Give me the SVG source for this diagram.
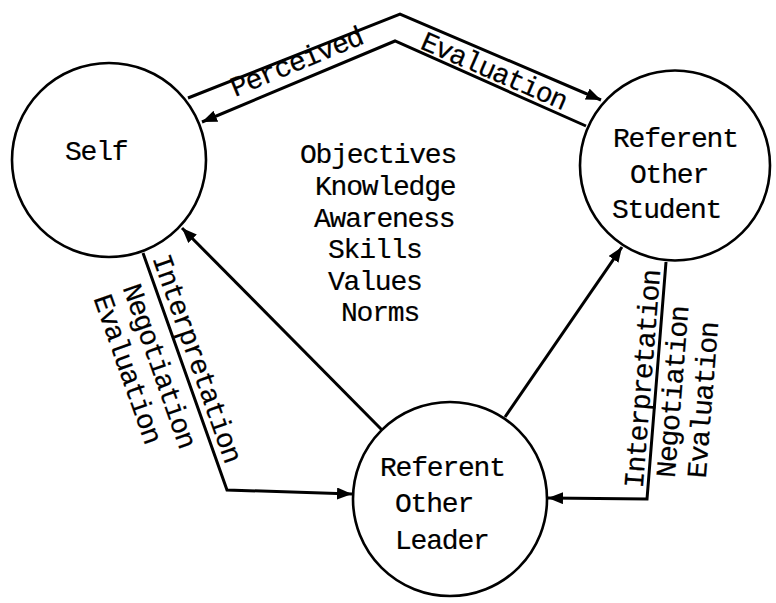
<svg xmlns="http://www.w3.org/2000/svg" width="776" height="603" viewBox="0 0 776 603">
<defs>
<marker id="arr" markerUnits="userSpaceOnUse" markerWidth="16" markerHeight="14" refX="15" refY="6" orient="auto">
<path d="M0,0 L15,6 L0,12 z" fill="#000"/>
</marker>
</defs>
<style>
.t{font-family:"Liberation Mono","Courier New",monospace;font-size:28px;letter-spacing:-1.2px;fill:#000;stroke:#000;stroke-width:0.2px}
.c{fill:#fff;stroke:#000;stroke-width:2.6}
.l{fill:none;stroke:#000;stroke-width:3;stroke-linejoin:miter}
</style>
<rect width="776" height="603" fill="#fff"/>
<g id="connectors">
<path class="l" d="M188,98 L400,14 L601,100" marker-end="url(#arr)"/>
<path class="l" d="M586,126 L395,41 L202,122" marker-end="url(#arr)"/>
<path class="l" d="M143,253 L227,490 L352,494" marker-end="url(#arr)"/>
<path class="l" d="M666,262 L647,499 L548,498" marker-end="url(#arr)"/>
<path class="l" d="M382,430 L182,228" marker-end="url(#arr)"/>
<path class="l" d="M505,417 L622,247" marker-end="url(#arr)"/>
</g>
<g id="connector-labels">
<text class="t" transform="translate(235,97) rotate(-22.5)">Perceived</text>
<text class="t" transform="translate(419,48) rotate(23.5)">Evaluation</text>
<g transform="translate(143,253) rotate(70.5)">
<text class="t" x="8" y="-7">Interpretation</text>
<text class="t" x="26" y="31">Negotiation</text>
<text class="t" x="26" y="62">Evaluation</text>
</g>
<g transform="translate(647,498) rotate(-85.4)">
<text class="t" x="9" y="-5">Interpretation</text>
<text class="t" x="22" y="26">Negotiation</text>
<text class="t" x="24" y="57">Evaluation</text>
</g>
</g>
<g id="node-self">
<circle class="c" cx="109" cy="160" r="97"/>
<text class="t" x="65" y="160">Self</text>
</g>
<g id="node-student">
<circle class="c" cx="675" cy="165.5" r="95"/>
<text class="t" x="613" y="147">Referent</text>
<text class="t" x="630" y="183">Other</text>
<text class="t" x="612" y="218">Student</text>
</g>
<g id="node-leader">
<circle class="c" cx="450" cy="499" r="97"/>
<text class="t" x="380" y="476">Referent</text>
<text class="t" x="395" y="512">Other</text>
<text class="t" x="395" y="549">Leader</text>
</g>
<g id="shared-content">
<text class="t" x="300" y="163">Objectives</text>
<text class="t" x="315" y="195">Knowledge</text>
<text class="t" x="314" y="227">Awareness</text>
<text class="t" x="328" y="258">Skills</text>
<text class="t" x="328" y="290">Values</text>
<text class="t" x="341" y="321">Norms</text>
</g>
</svg>
